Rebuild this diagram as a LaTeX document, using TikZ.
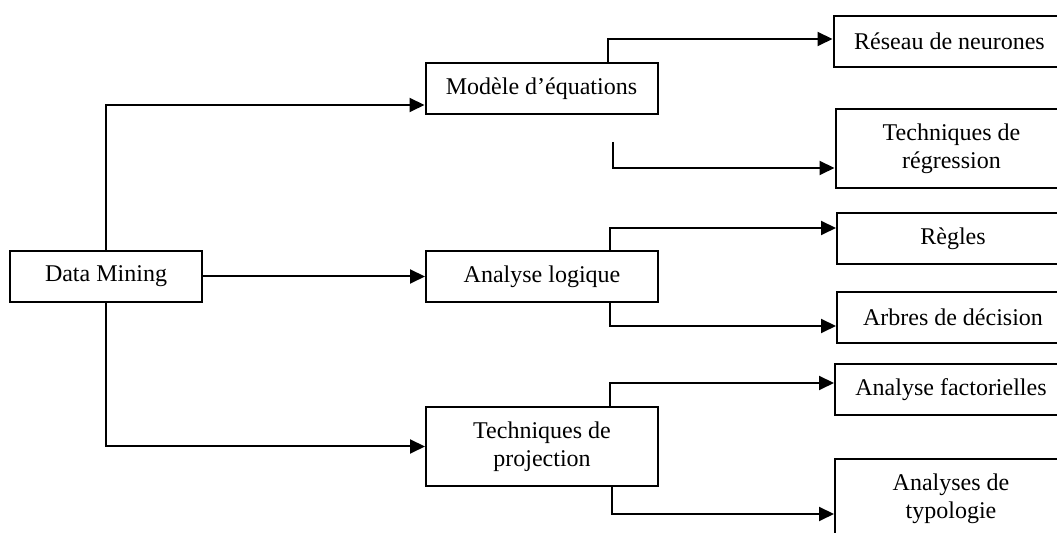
\documentclass[tikz,border=0pt]{standalone}
\usepackage{fontspec}
\setmainfont{Liberation Serif}
\usetikzlibrary{arrows.meta}

\begin{document}
\begin{tikzpicture}[
  x=0.5pt, y=-0.5pt,
  method/.style={draw, minimum width=116pt, minimum height=25.5pt,
    inner sep=0pt, align=center, font=\fontsize{12pt}{14pt}\selectfont},
  tall/.style={method, minimum height=39.5pt},
  ->,>={Triangle[length=7.5pt,width=7pt]},line width=1pt
]
\useasboundingbox (0,0) rectangle (1057,533);
\clip (0,0) rectangle (1057,533);

\node[method, minimum width=96pt] (dm) at (106,276.5) {Data Mining};
\node[method] (modele) at (541.5,89) {Modèle d’équations};
\node[method] (logique) at (542,276.5) {Analyse logique};
\node[tall] (projection) at (542,446.5) {Techniques de\\projection};

\node[method] (reseau) at (949.5,41.5) {Réseau de neurones};
\node[tall] (regression) at (951.5,148.5) {Techniques de\\régression};
\node[method] (regles) at (953,239) {Règles};
\node[method] (arbres) at (953,317.5) {Arbres de décision};
\node[method] (factorielles) at (951,389.5) {Analyse factorielles};
\node[tall] (typologie) at (951,499) {Analyses de\\typologie};
\coordinate (gap) at (613,142);

\draw (dm.north) |- ([yshift=-8pt]modele.west);
\draw (dm) -- (logique);
\draw (dm.south) |- (projection.west);

\draw ([xshift=33pt]modele.north) |- ([yshift=1.25pt]reseau.west);
\draw (gap) |- ([yshift=-9.75pt]regression.west);
\draw ([xshift=34pt]logique.north) |- ([yshift=5.5pt]regles.west);
\draw ([xshift=34pt]logique.south) |- ([yshift=-4.25pt]arbres.west);
\draw ([xshift=34pt]projection.north) |- ([yshift=3.25pt]factorielles.west);
\draw ([xshift=35pt]projection.south) |- ([yshift=-7.5pt]typologie.west);
\end{tikzpicture}
\end{document}
